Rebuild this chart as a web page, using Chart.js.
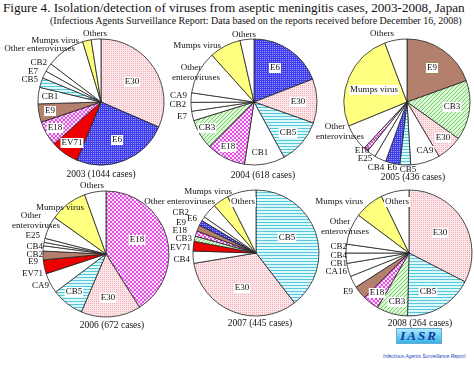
<!DOCTYPE html>
<html>
<head>
<meta charset="utf-8">
<script src="https://cdn.jsdelivr.net/npm/chart.js@4.4.1/dist/chart.umd.min.js"></script>
<style>
  body { margin: 0; background: #fff; }
  #page { position: relative; width: 474px; height: 368px; overflow: hidden; font-family: 'Liberation Serif', 'DejaVu Serif', serif; color: #111; }
  .t { position: absolute; white-space: nowrap; }
  .yr { position: absolute; white-space: nowrap; font-size: 9.5px; transform: translate(-50%, -50%); }
  canvas { position: absolute; }
  #logo { position: absolute; left: 396px; top: 328px; width: 44px; height: 14px; background: linear-gradient(#a8eaff, #38b4ea); border: 1px solid #6aaad0;
          font: italic bold 13px 'Liberation Serif', serif; color: #15329a; text-align: center; line-height: 14px; letter-spacing: 2px; }
  #logoSub { position: absolute; left: 383px; top: 354px; font: italic 8px 'Liberation Sans', sans-serif; color: #2848c0; transform-origin: left top; transform: scale(0.62); white-space: nowrap; }
</style>
</head>
<body>
<div id="page">
  <div id="title" class="t" style="left:3px; top:0px; font-size:13px;">Figure 4. Isolation/detection of viruses from aseptic meningitis cases, 2003-2008, Japan</div>
  <div id="subtitle" class="t" style="left:50px; top:15px; font-size:9px;">(Infectious Agents Surveillance Report: Data based on the reports received before December 16, 2008)</div>
  <div id="logo">IASR</div>
  <div id="logoSub">Infectious Agents Surveillance Report</div>
</div>
<script>
// case counts, clockwise from 12 o'clock
var cats2003 = ['E30', 'E6', 'EV71', 'E18', 'E9', 'CB1', 'CB5', 'E7', 'CB2', 'Other enteroviruses', 'Mumps virus', 'Others'];
var cases2003 = [329, 258, 75, 67, 49, 44, 26, 20, 23, 104, 23, 26];

var cats2004 = ['E6', 'E30', 'CB5', 'CB1', 'E18', 'CB3', 'E7', 'CB2', 'CA9', 'Other enteroviruses', 'Mumps virus', 'Others'];
var cases2004 = [118, 70, 72, 64, 62, 48, 15, 14, 15, 68, 50, 22];

var cats2005 = ['E9', 'CB3', 'E30', 'CA9', 'CB5', 'E6', 'CB4', 'E25', 'E18', 'Other enteroviruses', 'Mumps virus', 'Others'];
var cases2005 = [85, 67, 29, 33, 12, 16, 13, 10, 5, 30, 111, 25];

var cats2006 = ['E18', 'E30', 'CB5', 'CA9', 'EV71', 'E9', 'CB2', 'CB4', 'E25', 'Other enteroviruses', 'Mumps virus', 'Others'];
var cases2006 = [276, 103, 56, 35, 24, 15, 9, 6, 7, 39, 65, 37];

var cats2007 = ['CB5', 'E30', 'CB4', 'EV71', 'CB3', 'E18', 'E9', 'E6', 'CB2', 'Other enteroviruses', 'Mumps virus', 'Others'];
var cases2007 = [176, 146, 14, 11, 6, 6, 7, 6, 5, 17, 18, 33];

var cats2008 = ['E30', 'CB5', 'CB3', 'E18', 'E9', 'CA16', 'CB1', 'CB4', 'CB2', 'Other enteroviruses', 'Mumps virus', 'Others'];
var cases2008 = [86, 47, 21, 11, 9, 8, 9, 7, 6, 21, 20, 19];

var years = ['2003', '2004', '2005', '2006', '2007', '2008'];
var totals = [1044, 618, 436, 672, 445, 264];

// pie centres on the page and where the year caption sits
var pieCenters = [[101, 102], [254, 102], [407, 102], [106, 254], [256, 253], [409, 253]];
var captionPos = [[101, 174], [263, 175], [413, 177], [112, 325], [260, 323], [420, 323]];

// label placement relative to the pie centre: dx, dy, mode (b = boxed, c = centred, r = right aligned, two = two lines)
var labelPos = [
    [[31,-20,'b'],[16,38,'b'],[-29,41,'b'],[-46,26,'b'],[-51,9,'b'],[-51,-5,'b'],[-63,-22,'r'],[-63,-30,'r'],[-54,-39,'r'],[-26,-53,'r'],[-22,-61,'r'],[-6,-68,'c']],
    [[21,-34,'b'],[44,0,'b'],[34,31,'b'],[6,51,'b'],[-26,45,'b'],[-47,26,'b'],[-67,15,'r'],[-68,3,'r'],[-67,-6,'r'],[-58,-29,'two'],[-33,-56,'r'],[-10,-67,'c']],
    [[25,-34,'b'],[45,5,'b'],[36,36,'b'],[18,49,'b'],[1,68,'c'],[-15,66,'c'],[-31,66,'c'],[-42,57,'c'],[-45,49,'c'],[-67,30,'two'],[-33,-12,'b'],[-25,-68,'c']],
    [[31,-14,'b'],[2,44,'b'],[-32,38,'b'],[-57,32,'r'],[-63,20,'r'],[-68,8,'r'],[-63,1,'r'],[-63,-7,'r'],[-66,-18,'r'],[-70,-33,'two'],[-46,-46,'c'],[-14,-68,'c']],
    [[31,-15,'b'],[-14,35,'b'],[-66,7,'r'],[-65,-5,'r'],[-64,-14,'r'],[-69,-22,'r'],[-70,-30,'r'],[-59,-34,'r'],[-67,-40,'r'],[-41,-51,'r'],[-24,-61,'r'],[-13,-51,'b']],
    [[31,-20,'b'],[19,39,'b'],[-12,49,'b'],[-32,40,'b'],[-56,39,'r'],[-62,19,'r'],[-62,11,'r'],[-62,3,'r'],[-62,-6,'r'],[-64,-26,'two'],[-46,-51,'r'],[-12,-51,'b']]
];

var allCats = [cats2003, cats2004, cats2005, cats2006, cats2007, cats2008];
var allCases = [cases2003, cases2004, cases2005, cases2006, cases2007, cases2008];

function makePattern(size, base, draw) {
    var c = document.createElement('canvas');
    c.width = size;
    c.height = size;
    var x = c.getContext('2d');
    x.fillStyle = base;
    x.fillRect(0, 0, size, size);
    draw(x);
    return x.createPattern(c, 'repeat');
}

var pinkDots = makePattern(2, '#fde6e8', function(x) { x.fillStyle = '#f2b0bc'; x.fillRect(0, 0, 1, 1); });
var blueDots = makePattern(2, '#3c3cea', function(x) { x.fillStyle = '#9a9aff'; x.fillRect(0, 0, 1, 1); });
var magentaCheck = makePattern(4, '#ffe0ff', function(x) { x.fillStyle = '#e050e0'; x.fillRect(0, 0, 2, 2); x.fillRect(2, 2, 2, 2); });
var cyanLines = makePattern(3, '#dcfafd', function(x) { x.fillStyle = '#58c8dc'; x.fillRect(0, 0, 3, 1); });
var greenHatch = makePattern(4, '#dcf8d4', function(x) {
    x.fillStyle = '#78cc70';
    for (var i = 0; i < 4; i++) x.fillRect(i, 3 - i, 1, 1);
});

var fills = {
    'E30': pinkDots,
    'E6': blueDots,
    'E18': magentaCheck,
    'CB5': cyanLines,
    'CB3': greenHatch,
    'EV71': '#ee0000',
    'E9': '#b4806e',
    'Mumps virus': '#ffff80'
};

function fillFor(cat) {
    return fills[cat] || '#ffffff';
}

var sliceLabels = {
    id: 'sliceLabels',
    afterDatasetsDraw: function(chart, args, opts) {
        var ctx = chart.ctx;
        var arc = chart.getDatasetMeta(0).data[0];
        var cx = arc.x, cy = arc.y;
        var names = chart.data.labels;
        ctx.save();
        ctx.font = '9px "Liberation Serif", serif';
        ctx.textBaseline = 'middle';
        ctx.fillStyle = '#111';
        opts.pos.forEach(function(p, i) {
            var x = cx + p[0], y = cy + p[1];
            var txt = names[i];
            if (p[2] == 'two') {
                ctx.textAlign = 'center';
                ctx.fillText('Other', x - 5, y - 5);
                ctx.fillText('enteroviruses', x, y + 5);
            } else if (p[2] == 'r') {
                ctx.textAlign = 'right';
                ctx.fillText(txt, x, y);
            } else {
                ctx.textAlign = 'center';
                if (p[2] == 'b') {
                    var w = ctx.measureText(txt).width;
                    ctx.fillStyle = '#fff';
                    ctx.fillRect(x - w / 2 - 1, y - 5, w + 2, 10);
                    ctx.fillStyle = '#111';
                }
                ctx.fillText(txt, x, y);
            }
        });
        ctx.restore();
    }
};

var page = document.getElementById('page');

years.forEach(function(yr, k) {
    var canvas = document.createElement('canvas');
    canvas.width = 240;
    canvas.height = 170;
    canvas.style.left = (pieCenters[k][0] - 120) + 'px';
    canvas.style.top = (pieCenters[k][1] - 85) + 'px';
    page.appendChild(canvas);

    new Chart(canvas, {
        type: 'pie',
        data: {
            labels: allCats[k],
            datasets: [{
                data: allCases[k],
                backgroundColor: allCats[k].map(fillFor),
                borderColor: '#222',
                borderWidth: 0.8,
                radius: 63
            }]
        },
        options: {
            responsive: false,
            animation: false,
            events: [],
            layout: { padding: 0 },
            plugins: {
                legend: { display: false },
                tooltip: { enabled: false },
                sliceLabels: { pos: labelPos[k] }
            }
        },
        plugins: [sliceLabels]
    });

    var cap = document.createElement('div');
    cap.className = 'yr';
    cap.textContent = yr + ' (' + totals[k] + ' cases)';
    cap.style.left = captionPos[k][0] + 'px';
    cap.style.top = captionPos[k][1] + 'px';
    page.appendChild(cap);
});

// fit the heading lines to the width they take in the figure
function fitWidth(id, target) {
    var el = document.getElementById(id);
    var fs = parseFloat(el.style.fontSize);
    var w = el.getBoundingClientRect().width;
    el.style.fontSize = (fs * target / w) + 'px';
}
fitWidth('title', 462);
fitWidth('subtitle', 412);
</script>
</body>
</html>
